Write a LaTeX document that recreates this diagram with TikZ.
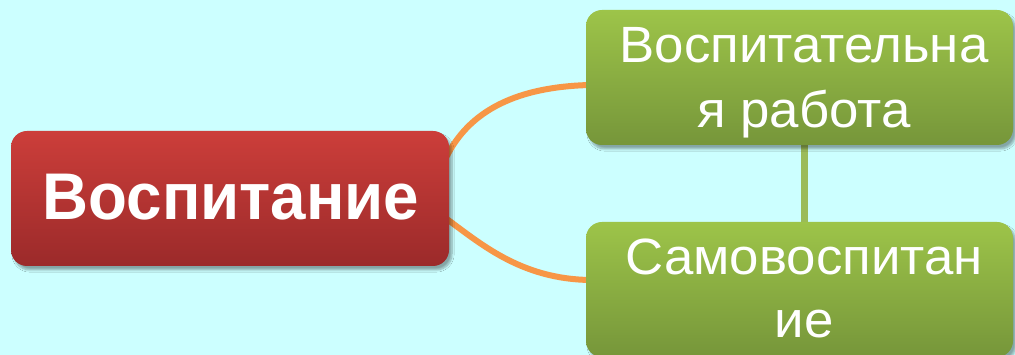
\documentclass[tikz,border=0pt]{standalone}
\usepackage{fontspec}
\setmainfont{Liberation Sans}
\usetikzlibrary{shadows.blur,calc}
\definecolor{bgc}{RGB}{204,255,255}
\definecolor{redtop}{RGB}{204,62,58}
\definecolor{redbot}{RGB}{155,42,42}
\definecolor{grntop}{RGB}{157,196,73}
\definecolor{grnbot}{RGB}{118,150,58}
\definecolor{orangec}{RGB}{247,150,70}
\definecolor{linkgrn}{RGB}{155,187,89}
\tikzset{
  boxshadow/.style={blur shadow={shadow xshift=3pt,shadow yshift=-4pt,shadow opacity=35,shadow blur steps=8,shadow blur extra rounding=3pt}},
  redbox/.style={rectangle,rounded corners=16pt,minimum width=438pt,minimum height=135pt,top color=redtop,bottom color=redbot,draw=none,boxshadow,inner sep=0pt},
  greenbox/.style={rectangle,rounded corners=16pt,minimum width=427pt,minimum height=135pt,top color=grntop,bottom color=grnbot,draw=none,boxshadow,inner sep=0pt},
  bigtxt/.style={text=white,font=\fontsize{66}{80}\selectfont\bfseries,inner sep=0pt,anchor=base,xscale=0.965},
  gtxt/.style={text=white,font=\fontsize{51}{65}\selectfont,inner sep=0pt,anchor=base,xscale=1.035},
  orangelink/.style={draw=orangec,line width=6pt},
  greenlink/.style={draw=linkgrn,line width=7pt}
}
\begin{document}
\begin{tikzpicture}[x=1pt,y=1pt]
\fill[bgc] (0,0) rectangle (1015,355);
\useasboundingbox (0,0) rectangle (1015,355);
% connectors (behind boxes)
\coordinate (u0) at (444,193);
\coordinate (u1) at (590,270);
\coordinate (l0) at (444,138);
\coordinate (l1) at (590,75);
\draw[orangelink] (u0) .. controls (465,240) and (510,268) .. (u1);
\draw[orangelink] (l0) .. controls (480,112) and (520,76) .. (l1);
\coordinate (v0) at (804,215);
\coordinate (v1) at (804,128);
\draw[greenlink] (v0) -- (v1);
% boxes
\node[redbox] (red) at (230,156.5) {};
\node[greenbox] (g1) at (799.5,277.5) {};
\node[greenbox] (g2) at (799.5,65.5) {};
% texts
\node[bigtxt] (t0) at (231,135) {Воспитание};
\node[gtxt] (t1) at (804,292) {Воспитательна};
\node[gtxt] (t2) at (804,227) {я работа};
\node[gtxt] (t3) at (804,80) {Самовоспитан};
\node[gtxt] (t4) at (804,17) {ие};
\end{tikzpicture}
\end{document}
